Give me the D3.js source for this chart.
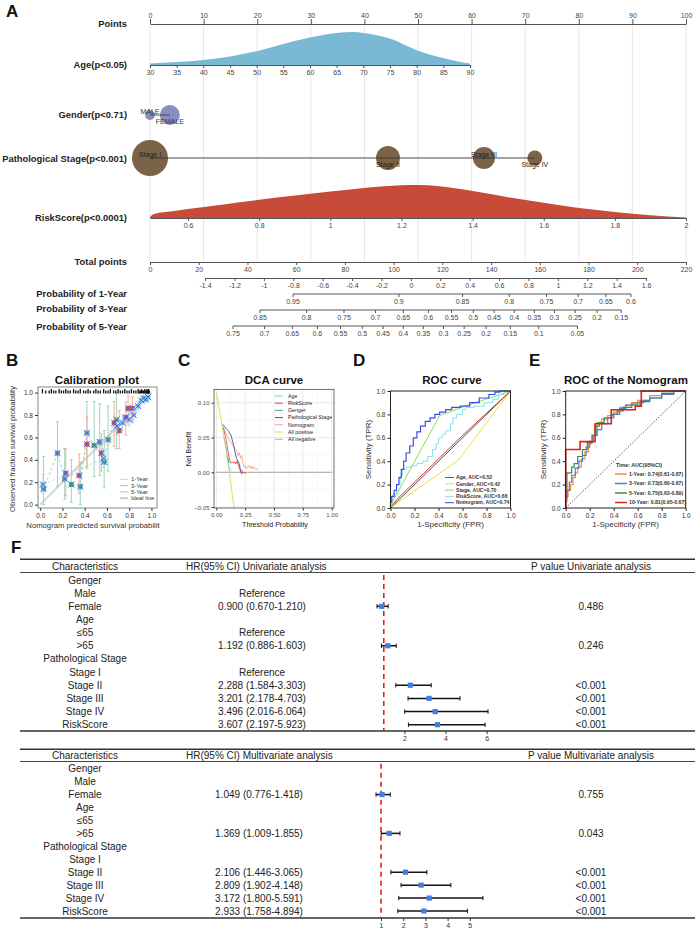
<!DOCTYPE html>
<html><head><meta charset="utf-8">
<script src="https://cdn.jsdelivr.net/npm/d3@7"></script>
<style>
body{margin:0;background:#fff;}
svg{display:block;}
</style></head><body>
<svg id="chart" width="695" height="931"></svg>
<script>
// ================= DATA =================
// --- Nomogram (A) ---
const pointsTicks = [0,10,20,30,40,50,60,70,80,90,100];
const ageTicks = [30,35,40,45,50,55,60,65,70,75,80,85,90];
const ageRange = [30,90];
const agePointRange = [0,59.7];
const ageDensity = [[30,0.045],[35,0.09],[40,0.15],[45,0.26],[50,0.42],[55,0.64],[60,0.83],[65,0.97],[68,1.0],[70,0.97],[75,0.8],[80,0.45],[85,0.21],[88,0.1],[90,0.045]];
const genderLevels = ["MALE","FEMALE"];
const genderPoints = [0,3.7];
const genderCounts = [22,89];
const stageLevels = ["Stage I","Stage II","Stage III","Stage IV"];
const stagePoints = [0,44.4,62.3,71.8];
const stageCounts = [290,128,108,50];
const riskTicks = [0.6,0.8,1,1.2,1.4,1.6,1.8,2];
const riskRange = [0.493,2];
const riskPointRange = [0,100];
const riskDensity = [[0.493,0.03],[0.5,0.1],[0.52,0.16],[0.55,0.2],[0.6,0.27],[0.7,0.41],[0.8,0.55],[0.9,0.68],[1.0,0.8],[1.1,0.92],[1.2,0.99],[1.25,1.0],[1.3,0.97],[1.4,0.82],[1.5,0.63],[1.6,0.46],[1.7,0.3],[1.8,0.18],[1.9,0.08],[2.0,0.015]];
const totalTicks = [0,20,40,60,80,100,120,140,160,180,200,220];
const lpTicks = [-1.4,-1.2,-1,-0.8,-0.6,-0.4,-0.2,0,0.2,0.4,0.6,0.8,1,1.2,1.4,1.6];
const lpRange = [-1.4,1.6];
const lpTotalRange = [22.6,203.6];
const prob1Ticks = [0.95,0.9,0.85,0.8,0.75,0.7,0.65,0.6];
const prob3Ticks = [0.85,0.8,0.75,0.7,0.65,0.6,0.55,0.5,0.45,0.4,0.35,0.3,0.25,0.2,0.15];
const prob5Ticks = [0.75,0.7,0.65,0.6,0.55,0.5,0.45,0.4,0.35,0.3,0.25,0.2,0.15,0.1,0.05];
const baselineLogCumHaz = [-2.169,-0.791,-0.036]; // 1-, 3-, 5-year

// --- Calibration (B): [predicted, observed, lower, upper] ---
const cal1Year = [[0.025,0.18,0.1,0.27],[0.57,0.41,0.33,0.5],[0.69,0.70,0.62,0.78],[0.74,0.73,0.66,0.8],[0.80,0.76,0.7,0.83],[0.84,0.80,0.75,0.86],[0.88,0.88,0.84,0.92],[0.91,0.93,0.9,0.96],[0.93,0.95,0.92,0.98],[0.95,0.94,0.91,0.97],[0.97,0.96,0.93,0.99]];
const cal3Year = [[0.23,0.28,0.08,0.5],[0.35,0.26,0.1,0.45],[0.42,0.54,0.34,0.79],[0.55,0.46,0.3,0.63],[0.665,0.73,0.52,0.92],[0.71,0.66,0.5,0.84],[0.77,0.78,0.62,0.92],[0.79,0.86,0.72,0.97],[0.83,0.86,0.73,0.96]];
const cal5Year = [[0.03,0.14,0.0,0.43],[0.155,0.46,0.16,0.74],[0.22,0.23,0.05,0.5],[0.28,0.18,0.02,0.4],[0.36,0.16,0.0,0.38],[0.42,0.64,0.32,0.92],[0.485,0.53,0.25,0.92],[0.535,0.56,0.26,0.9],[0.575,0.38,0.15,0.66],[0.61,0.58,0.3,0.88],[0.685,0.76,0.5,1.0]];
const calRug = [0.02,0.05,0.08,0.1,0.12,0.14,0.17,0.19,0.21,0.23,0.25,0.27,0.3,0.32,0.34,0.36,0.39,0.41,0.43,0.45,0.48,0.5,0.52,0.54,0.57,0.59,0.61,0.63,0.66,0.68,0.7,0.72,0.74,0.76,0.78,0.8,0.82,0.84,0.86,0.88,0.89,0.9,0.91,0.92,0.93,0.94,0.95,0.955,0.96,0.965,0.97,0.975,0.98];
const calTicks = [0,0.2,0.4,0.6,0.8,1.0];
const calLegend = ["1-Year","3-Year","5-Year","Ideal line"];

// --- DCA (C): [threshold, net benefit] ---
const dcaAge = [[0.065,0.05],[0.075,0.044],[0.085,0.035],[0.095,0.025],[0.1,0.018],[0.105,0.012],[0.11,0.008],[0.115,0.004],[0.12,0.003],[0.125,0.004],[0.13,0.0035]];
const dcaRisk = [[0.06,0.064],[0.07,0.058],[0.08,0.05],[0.09,0.042],[0.1,0.032],[0.11,0.022],[0.12,0.016],[0.13,0.013],[0.14,0.015],[0.15,0.013],[0.16,0.015],[0.17,0.012],[0.18,0.016],[0.19,0.011],[0.2,0.006],[0.21,0.002],[0.22,0.003],[0.23,-0.001],[0.24,0.0],[0.26,-0.002]];
const dcaGender = [[0.095,0.022],[0.1,0.02],[0.105,0.017],[0.11,0.013]];
const dcaStage = [[0.055,0.069],[0.07,0.066],[0.09,0.062],[0.11,0.058],[0.13,0.052],[0.145,0.042],[0.16,0.031],[0.175,0.02],[0.19,0.015],[0.2,0.012],[0.21,0.002],[0.222,-0.003]];
const dcaNomogram = [[0.06,0.066],[0.08,0.058],[0.1,0.05],[0.12,0.044],[0.14,0.04],[0.16,0.035],[0.18,0.03],[0.19,0.024],[0.2,0.028],[0.21,0.02],[0.22,0.024],[0.23,0.014],[0.24,0.008],[0.25,0.01],[0.26,0.005],[0.27,0.007],[0.28,0.01],[0.29,0.006],[0.3,0.009],[0.31,0.005],[0.32,0.008],[0.33,0.005],[0.34,0.006],[0.35,0.004],[0.36,0.005]];
const dcaAllPositive = [[0,0.115],[0.05,0.068],[0.1,0.016],[0.15,-0.046],[0.154,-0.0513]];
const dcaAllNegative = [[0,0],[1,0]];
const dcaNames = ["Age","RiskScore","Genger","Pathological Stage","Nomogram","All positive","All negative"];
const dcaXTicks = [0,0.25,0.5,0.75,1];
const dcaXMinor = [0.125,0.375,0.625,0.875];
const dcaYTicks = [-0.05,0,0.05,0.1];
const dcaYMinor = [-0.025,0.025,0.075];

// --- ROC (D): [FPR, TPR] ---
const rocAge = [[0,0],[0.05,0.07],[0.2,0.22],[0.4,0.42],[0.6,0.62],[0.8,0.81],[1,1]];
const rocGender = [[0,0],[0.566,0.41],[1,1]];
const rocStage = [[0,0],[0.02,0.06],[0.41,0.79],[0.62,0.87],[1,1]];
const rocRisk = [[0,0],[0.02,0.05],[0.05,0.12],[0.08,0.2],[0.1,0.28],[0.13,0.33],[0.17,0.35],[0.22,0.36],[0.27,0.38],[0.31,0.4],[0.35,0.44],[0.38,0.5],[0.4,0.55],[0.43,0.6],[0.46,0.63],[0.5,0.66],[0.52,0.72],[0.55,0.77],[0.6,0.8],[0.63,0.84],[0.7,0.86],[0.78,0.87],[0.85,0.9],[0.9,0.93],[0.95,0.97],[1,1]];
const rocNomogram = [[0,0],[0.01,0.05],[0.03,0.1],[0.05,0.15],[0.07,0.2],[0.09,0.26],[0.11,0.33],[0.13,0.4],[0.16,0.47],[0.19,0.53],[0.22,0.6],[0.25,0.65],[0.29,0.7],[0.33,0.74],[0.37,0.77],[0.41,0.8],[0.46,0.82],[0.51,0.84],[0.58,0.86],[0.66,0.87],[0.74,0.9],[0.82,0.94],[0.87,0.97],[0.91,0.99],[0.96,1],[1,1]];
const rocDLegend = ["Age, AUC=0.52","Gender, AUC=0.42","Stage, AUC=0.70","RiskScore, AUC=0.66","Nomogram, AUC=0.74"];
const rocTicks = [0,0.2,0.4,0.6,0.8,1.0];

// --- ROC of nomogram (E) ---
const roc1Year = [[0,0],[0.01,0.05],[0.02,0.1],[0.04,0.15],[0.06,0.2],[0.08,0.26],[0.1,0.3],[0.13,0.35],[0.16,0.42],[0.19,0.48],[0.22,0.55],[0.24,0.62],[0.26,0.7],[0.3,0.73],[0.35,0.76],[0.4,0.79],[0.45,0.82],[0.5,0.86],[0.55,0.88],[0.6,0.9],[0.7,0.92],[0.8,0.96],[0.9,0.98],[1,1]];
const roc3Year = [[0,0],[0.01,0.08],[0.03,0.15],[0.05,0.22],[0.08,0.28],[0.11,0.34],[0.14,0.4],[0.17,0.45],[0.2,0.52],[0.23,0.57],[0.26,0.62],[0.3,0.67],[0.35,0.72],[0.4,0.77],[0.45,0.8],[0.5,0.85],[0.55,0.88],[0.6,0.89],[0.65,0.9],[0.7,0.92],[0.8,0.94],[0.9,0.97],[1,1]];
const roc5Year = [[0,0],[0.01,0.1],[0.02,0.3],[0.05,0.3],[0.07,0.35],[0.1,0.38],[0.14,0.44],[0.18,0.5],[0.22,0.56],[0.26,0.62],[0.28,0.7],[0.32,0.73],[0.38,0.77],[0.43,0.8],[0.48,0.83],[0.55,0.86],[0.62,0.88],[0.7,0.91],[0.8,0.94],[0.9,0.98],[1,1]];
const roc10Year = [[0,0],[0,0.5],[0.12,0.5],[0.12,0.567],[0.245,0.567],[0.245,0.72],[0.38,0.72],[0.38,0.84],[0.58,0.84],[0.58,0.87],[0.63,0.87],[0.63,1],[1,1]];
const rocELegend = ["1-Year: 0.74(0.61-0.87)","3-Year: 0.73(0.60-0.87)","5-Year: 0.75(0.63-0.89)","10-Year: 0.81(0.95-0.67)"];

// --- Forest (F) ---
const forestRows = ["Genger","Male","Female","Age","≤65",">65","Pathological Stage","Stage I","Stage II","Stage III","Stage IV","RiskScore"];
const uniRefRows = ["Male","≤65","Stage I"];
const uniHR   = [null,null,0.900,null,null,1.192,null,null,2.288,3.201,3.496,3.607];
const uniLow  = [null,null,0.670,null,null,0.886,null,null,1.584,2.178,2.016,2.197];
const uniHigh = [null,null,1.210,null,null,1.603,null,null,3.303,4.703,6.064,5.923];
const uniP    = ["","","0.486","","","0.246","","","<0.001","<0.001","<0.001","<0.001"];
const uniAxisTicks = [2,4,6];
const multiHR   = [null,null,1.049,null,null,1.369,null,null,2.106,2.809,3.172,2.933];
const multiLow  = [null,null,0.776,null,null,1.009,null,null,1.446,1.902,1.800,1.758];
const multiHigh = [null,null,1.418,null,null,1.855,null,null,3.065,4.148,5.591,4.894];
const multiP    = ["","","0.755","","","0.043","","","<0.001","<0.001","<0.001","<0.001"];
const multiAxisTicks = [1,2,3,4,5];

// ================= DRAW =================
const FONT = "'Liberation Sans', Arial, Helvetica, sans-serif";
const svg = d3.select("#chart").attr("font-family", FONT);

function txt(g, x, y, s, o = {}) {
  const t = g.append("text").attr("x", x).attr("y", y).text(s)
    .attr("font-size", o.size || 10).attr("fill", o.fill || "#222")
    .attr("text-anchor", o.anchor || "start")
    .attr("font-weight", o.weight || "normal");
  if (o.dy) t.attr("dy", o.dy);
  if (o.rotate) t.attr("transform", `rotate(-90,${x},${y})`);
  return t;
}
function styleAxis(g, fs, col, lineCol) {
  g.attr("font-family", FONT).attr("font-size", fs);
  g.selectAll("text").attr("fill", col || "#444");
  g.selectAll("line").attr("stroke", lineCol || "#555");
  g.select(".domain").attr("stroke", lineCol || "#555");
}
const fmtNum = d => String(+d.toFixed(2));

// Panel letters
[["A",6,17],["B",6,366],["C",178,366],["D",353,366],["E",529,366],["F",11,553]].forEach(([s,x,y]) =>
  txt(svg, x, y, s, {size:17, weight:"bold", fill:"#111"}));

// ----- Panel A -----
const gA = svg.append("g");
const ptsX = d3.scaleLinear().domain([0,100]).range([150,686]);
const totX = d3.scaleLinear().domain([0,220]).range([150,686]);
const ageX = d3.scaleLinear().domain(ageRange).range(agePointRange.map(ptsX));
const riskX = d3.scaleLinear().domain(riskRange).range(riskPointRange.map(ptsX));
const densH = d3.scaleLinear().domain([0,1]).range([0,33]);
const lpX = d3.scaleLinear().domain(lpRange).range(lpTotalRange.map(totX));
const sizeR = d3.scaleSqrt().domain([0,290]).range([0,18]);

gA.append("g").selectAll("line").data(pointsTicks).join("line")
  .attr("x1", d => ptsX(d)).attr("x2", d => ptsX(d)).attr("y1", 24).attr("y2", 262)
  .attr("stroke", "#e6e6e6").attr("stroke-width", 1);

const rowLab = [["Points",24],["Age(p<0.05)",65],["Gender(p<0.71)",115],["Pathological Stage(p<0.001)",159],["RiskScore(p<0.0001)",218],["Total points",262],["Probability of 1-Year",294],["Probability of 3-Year",309],["Probability of 5-Year",327]];
rowLab.forEach(([s,y]) => txt(gA, 127, y, s, {size:9.4, weight:"bold", anchor:"end", dy:"0.35em", fill:"#222"}));

// Points axis
const axP = gA.append("g").attr("transform","translate(0,24)")
  .call(d3.axisTop(ptsX).tickValues(pointsTicks).tickSize(5).tickPadding(1.5).tickSizeOuter(0));
styleAxis(axP, 7);

// Age density
gA.append("path").datum(ageDensity)
  .attr("d", d3.area().x(d => ageX(d[0])).y0(65).y1(d => 65 - densH(d[1])).curve(d3.curveMonotoneX))
  .attr("fill", "#79b9d3");
const axAge = gA.append("g").attr("transform","translate(0,65)")
  .call(d3.axisBottom(ageX).tickValues(ageTicks).tickSize(3).tickPadding(2).tickSizeOuter(0));
styleAxis(axAge, 7);

// Gender
const gy = 115;
gA.selectAll(".gc").data(genderLevels).join("circle")
  .attr("cx", (d,i) => ptsX(genderPoints[i])).attr("cy", gy).attr("r", (d,i) => sizeR(genderCounts[i]))
  .attr("fill", "#8a8ebd");
gA.append("line").attr("x1", ptsX(genderPoints[0])).attr("x2", ptsX(genderPoints[genderPoints.length-1]))
  .attr("y1", gy).attr("y2", gy).attr("stroke", "#444").attr("stroke-width", 0.9);
genderLevels.forEach((s,i) => txt(gA, ptsX(genderPoints[i]), i%2===0 ? gy-1.5 : gy+9, s, {size:7, anchor:"middle", fill:"#333"}));

// Stage
const sy = 158;
gA.selectAll(".sc").data(stageLevels).join("circle")
  .attr("cx", (d,i) => ptsX(stagePoints[i])).attr("cy", sy).attr("r", (d,i) => sizeR(stageCounts[i]))
  .attr("fill", "#7a6347");
gA.append("line").attr("x1", ptsX(stagePoints[0])).attr("x2", ptsX(stagePoints[stagePoints.length-1]))
  .attr("y1", sy).attr("y2", sy).attr("stroke", "#333").attr("stroke-width", 0.9);
stageLevels.forEach((s,i) => txt(gA, ptsX(stagePoints[i]), i%2===0 ? sy-1.5 : sy+9, s, {size:7, anchor:"middle", fill:"#222"}));

// RiskScore density
gA.append("path").datum(riskDensity)
  .attr("d", d3.area().x(d => riskX(d[0])).y0(218).y1(d => 218 - densH(d[1])).curve(d3.curveMonotoneX))
  .attr("fill", "#c84a38");
const axRisk = gA.append("g").attr("transform","translate(0,218)")
  .call(d3.axisBottom(riskX).tickValues(riskTicks).tickFormat(fmtNum).tickSize(3).tickPadding(2).tickSizeOuter(0));
styleAxis(axRisk, 7);

// Total points
const axTot = gA.append("g").attr("transform","translate(0,262)")
  .call(d3.axisBottom(totX).tickValues(totalTicks).tickSize(3).tickPadding(2).tickSizeOuter(0));
styleAxis(axTot, 7);

// Linear predictor
const axLp = gA.append("g").attr("transform","translate(0,278)")
  .call(d3.axisBottom(lpX).tickValues(lpTicks).tickFormat(fmtNum).tickSize(3).tickPadding(2).tickSizeOuter(0));
styleAxis(axLp, 7);

// Probability axes
function probAxis(ticks, c, y) {
  const g = gA.append("g");
  const px = p => lpX(Math.log(-Math.log(p)) - c);
  g.append("line").attr("x1", px(ticks[0])).attr("x2", px(ticks[ticks.length-1]))
    .attr("y1", y).attr("y2", y).attr("stroke", "#555");
  g.selectAll("line.t").data(ticks).join("line").attr("class","t")
    .attr("x1", px).attr("x2", px).attr("y1", y).attr("y2", y+3).attr("stroke", "#555");
  g.selectAll("text").data(ticks).join("text")
    .attr("x", px).attr("y", y+5).attr("dy","0.71em").attr("text-anchor","middle")
    .attr("font-size", 7).attr("fill", "#444").text(fmtNum);
}
probAxis(prob1Ticks, baselineLogCumHaz[0], 294);
probAxis(prob3Ticks, baselineLogCumHaz[1], 310);
probAxis(prob5Ticks, baselineLogCumHaz[2], 326);

// ----- Panel B: calibration -----
const gB = svg.append("g");
const bx = d3.scaleLinear().domain([-0.02,1.05]).range([38,157]);
const by = d3.scaleLinear().domain([-0.03,1.05]).range([508,387]);
txt(gB, 97, 384, "Calibration plot", {size:11.5, weight:"bold", anchor:"middle", fill:"#111"});
gB.append("rect").attr("x",38).attr("y",387).attr("width",119).attr("height",121).attr("fill","none").attr("stroke","#555").attr("stroke-width",0.7);
gB.append("line").attr("x1",bx(0)).attr("y1",by(0)).attr("x2",bx(1)).attr("y2",by(1)).attr("stroke","#d4d4d4").attr("stroke-width",2);
const calSeries = [
  {d: cal5Year, bar:"#8fd1b7", pt:"#4fa985"},
  {d: cal3Year, bar:"#f2a894", pt:"#d9553a"},
  {d: cal1Year, bar:"#a9dbea", pt:"#8ccfe4"}
];
calSeries.forEach(s => {
  const g = gB.append("g");
  g.append("path").datum(s.d).attr("d", d3.line().x(d => bx(d[0])).y(d => by(d[1])))
    .attr("fill","none").attr("stroke", s.bar).attr("stroke-width",0.8).attr("stroke-dasharray","3,2");
  g.selectAll("line.e").data(s.d).join("line").attr("class","e")
    .attr("x1", d => bx(d[0])).attr("x2", d => bx(d[0])).attr("y1", d => by(d[2])).attr("y2", d => by(d[3]))
    .attr("stroke", s.bar).attr("stroke-width", 0.9);
  [2,3].forEach(k => g.selectAll("line.c"+k).data(s.d).join("line").attr("class","c"+k)
    .attr("x1", d => bx(d[0])-1.5).attr("x2", d => bx(d[0])+1.5).attr("y1", d => by(d[k])).attr("y2", d => by(d[k]))
    .attr("stroke", s.bar).attr("stroke-width", 0.9));
  g.selectAll("circle").data(s.d).join("circle")
    .attr("cx", d => bx(d[0])).attr("cy", d => by(d[1])).attr("r", 2.6).attr("fill", s.pt);
});
calSeries.forEach(s => {
  gB.append("g").selectAll("path").data(s.d).join("path")
    .attr("d", d => { const x = bx(d[0]), y = by(d[1]), r = 3; return `M${x-r},${y-r}L${x+r},${y+r}M${x-r},${y+r}L${x+r},${y-r}`; })
    .attr("stroke", "#4763ea").attr("stroke-width", 1);
});
gB.append("g").selectAll("line").data(calRug).join("line")
  .attr("x1", d => bx(d)).attr("x2", d => bx(d)).attr("y1", (d,i) => by(1) - (i%3===0 ? 3.5 : 2.2)).attr("y2", by(1)+0.8)
  .attr("stroke", "#111").attr("stroke-width", 1.3);
const axBL = gB.append("g").attr("transform","translate(38,0)")
  .call(d3.axisLeft(by).tickValues(calTicks).tickFormat(d3.format(".1f")).tickSize(3).tickPadding(2).tickSizeOuter(0));
styleAxis(axBL, 6.5, "#333", "#333"); axBL.select(".domain").remove();
const axBB = gB.append("g").attr("transform","translate(0,508)")
  .call(d3.axisBottom(bx).tickValues(calTicks).tickFormat(d3.format(".1f")).tickSize(3).tickPadding(2).tickSizeOuter(0));
styleAxis(axBB, 6.5, "#333", "#333"); axBB.select(".domain").remove();
txt(gB, 15, 449, "Observed fraction survival probability", {size:7.7, anchor:"middle", rotate:true, fill:"#333"});
txt(gB, 93, 528, "Nomogram predicted survival probabilit", {size:7.7, anchor:"middle", fill:"#333"});
const calLegCols = ["#a9dbea","#f2a894","#8fd1b7","#cfcfcf"];
calLegend.forEach((s,i) => {
  const y = 479.3 + i*6.3;
  gB.append("line").attr("x1",120).attr("x2",128).attr("y1",y).attr("y2",y).attr("stroke",calLegCols[i]).attr("stroke-width", i===3?2.2:1);
  txt(gB, 131, y, s, {size:5.8, dy:"0.35em", fill:"#333"});
});

// ----- Panel C: DCA -----
const gC = svg.append("g");
const cx = d3.scaleLinear().domain([-0.02,1.02]).range([214,334]);
const cy = d3.scaleLinear().domain([-0.0513,0.1193]).range([508,389.3]);
txt(gC, 274, 384, "DCA curve", {size:11.5, weight:"bold", anchor:"middle", fill:"#111"});
gC.append("g").selectAll("line").data(dcaXMinor).join("line")
  .attr("x1",d=>cx(d)).attr("x2",d=>cx(d)).attr("y1",389.3).attr("y2",508).attr("stroke","#f2f2f2").attr("stroke-width",0.6);
gC.append("g").selectAll("line").data(dcaYMinor).join("line")
  .attr("y1",d=>cy(d)).attr("y2",d=>cy(d)).attr("x1",214).attr("x2",334).attr("stroke","#f2f2f2").attr("stroke-width",0.6);
gC.append("g").selectAll("line").data(dcaXTicks).join("line")
  .attr("x1",d=>cx(d)).attr("x2",d=>cx(d)).attr("y1",389.3).attr("y2",508).attr("stroke","#e3e3e3").attr("stroke-width",0.8);
gC.append("g").selectAll("line").data(dcaYTicks).join("line")
  .attr("y1",d=>cy(d)).attr("y2",d=>cy(d)).attr("x1",214).attr("x2",334).attr("stroke","#e3e3e3").attr("stroke-width",0.8);
svg.append("clipPath").attr("id","clipC").append("rect").attr("x",214).attr("y",389.3).attr("width",120).attr("height",118.7);
const dcaCols = ["#6ec3e6","#e03b2f","#2f9e6e","#2c3f9e","#f59a7a","#cfe04a","#a3a3a3"];
const dcaData = [dcaAge,dcaRisk,dcaGender,dcaStage,dcaNomogram,dcaAllPositive,dcaAllNegative];
const gCl = gC.append("g").attr("clip-path","url(#clipC)");
[6,5,0,2,4,1,3].forEach(i => {
  gCl.append("path").datum(dcaData[i]).attr("d", d3.line().x(d=>cx(d[0])).y(d=>cy(d[1])))
    .attr("fill","none").attr("stroke",dcaCols[i]).attr("stroke-width", i>=5?0.9:0.8);
});
gC.append("rect").attr("x",214).attr("y",389.3).attr("width",120).attr("height",118.7).attr("fill","none").attr("stroke","#333").attr("stroke-width",0.7);
const axCL = gC.append("g").attr("transform","translate(214,0)")
  .call(d3.axisLeft(cy).tickValues(dcaYTicks).tickFormat(d3.format(".2f")).tickSize(2.5).tickPadding(2).tickSizeOuter(0));
styleAxis(axCL, 6, "#4d4d4d", "#333"); axCL.select(".domain").remove();
const axCB = gC.append("g").attr("transform","translate(0,508)")
  .call(d3.axisBottom(cx).tickValues(dcaXTicks).tickFormat(d3.format(".2f")).tickSize(2.5).tickPadding(2).tickSizeOuter(0));
styleAxis(axCB, 6, "#4d4d4d", "#333"); axCB.select(".domain").remove();
txt(gC, 191, 449, "Net Benefit", {size:7, anchor:"middle", rotate:true, fill:"#222"});
txt(gC, 275, 527, "Threshold Probability", {size:7, anchor:"middle", fill:"#222"});
dcaNames.forEach((s,i) => {
  const y = 396 + i*7.2;
  gC.append("line").attr("x1",275).attr("x2",283).attr("y1",y).attr("y2",y).attr("stroke",dcaCols[i]).attr("stroke-width",0.9);
  txt(gC, 288, y, s, {size:5.3, dy:"0.35em", fill:"#222"});
});

// ----- Panel D: ROC -----
function rocFrame(g, x0, title, titleX) {
  const xs = d3.scaleLinear().domain([0,1]).range([x0, x0+120]);
  const ys = d3.scaleLinear().domain([0,1]).range([508,391]);
  txt(g, titleX, 384, title, {size:11.5, weight:"bold", anchor:"middle", fill:"#111"});
  const axL = g.append("g").attr("transform",`translate(${x0},0)`)
    .call(d3.axisLeft(ys).tickValues(rocTicks).tickFormat(d3.format(".1f")).tickSize(3).tickPadding(2).tickSizeOuter(0));
  styleAxis(axL, 6.5, "#333", "#222"); axL.select(".domain").remove();
  const axB = g.append("g").attr("transform","translate(0,508)")
    .call(d3.axisBottom(xs).tickValues(rocTicks).tickFormat(d3.format(".1f")).tickSize(3).tickPadding(2).tickSizeOuter(0));
  styleAxis(axB, 6.5, "#333", "#222"); axB.select(".domain").remove();
  txt(g, x0-20, 449.5, "Sensitivity (TPR)", {size:8, anchor:"middle", rotate:true, fill:"#333"});
  txt(g, x0+60, 527, "1-Specificity (FPR)", {size:8, anchor:"middle", fill:"#333"});
  return {xs, ys};
}
const gD = svg.append("g");
const D = rocFrame(gD, 390.5, "ROC curve", 452);
const lineD = d3.line().x(d=>D.xs(d[0])).y(d=>D.ys(d[1]));
gD.append("line").attr("x1",D.xs(0)).attr("y1",D.ys(0)).attr("x2",D.xs(1)).attr("y2",D.ys(1)).attr("stroke","#222").attr("stroke-width",0.8);
const rocDCols = ["#d8352c","#e9e23c","#86e04c","#86e3ea","#3b4cef"];
const rocDData = [rocAge,rocGender,rocStage,rocRisk,rocNomogram];
[1,0,2,3,4].forEach(i => {
  const ln = (i>=3) ? d3.line().x(d=>D.xs(d[0])).y(d=>D.ys(d[1])).curve(d3.curveStepBefore) : lineD;
  gD.append("path").datum(rocDData[i]).attr("d", ln).attr("fill","none").attr("stroke",rocDCols[i]).attr("stroke-width", i===4?1.2:1);
});
gD.append("rect").attr("x",390.5).attr("y",391).attr("width",120).attr("height",117).attr("fill","none").attr("stroke","#222").attr("stroke-width",1);
rocDLegend.forEach((s,i) => {
  const y = 477.5 + i*6.3;
  gD.append("line").attr("x1",445).attr("x2",454).attr("y1",y).attr("y2",y).attr("stroke",rocDCols[i]).attr("stroke-width",1);
  txt(gD, 456, y, s, {size:5.1, weight:"bold", dy:"0.35em", fill:"#333"});
});

// ----- Panel E -----
const gE = svg.append("g");
const E = rocFrame(gE, 565.7, "ROC of the Nomogram", 626);
gE.append("line").attr("x1",E.xs(0)).attr("y1",E.ys(0)).attr("x2",E.xs(1)).attr("y2",E.ys(1)).attr("stroke","#333").attr("stroke-width",0.8).attr("stroke-dasharray","1.5,1.5");
const rocECols = ["#f0922e","#4a7fd6","#3a8f3e","#e11d1d"];
const rocEData = [roc1Year,roc3Year,roc5Year,roc10Year];
[0,2,1,3].forEach(i => {
  const ln = d3.line().x(d=>E.xs(d[0])).y(d=>E.ys(d[1])).curve(i<3 ? d3.curveStepBefore : d3.curveLinear);
  gE.append("path").datum(rocEData[i]).attr("d", ln).attr("fill","none").attr("stroke",rocECols[i]).attr("stroke-width", i===3?1.6:1.2);
});
gE.append("rect").attr("x",565.7).attr("y",391).attr("width",120).attr("height",117).attr("fill","none").attr("stroke","#222").attr("stroke-width",1);
txt(gE, 639, 465, "Time: AUC(95%CI)", {size:5.3, weight:"bold", anchor:"middle", dy:"0.35em", fill:"#333"});
rocELegend.forEach((s,i) => {
  const y = 474 + i*9.5;
  gE.append("line").attr("x1",615).attr("x2",627).attr("y1",y).attr("y2",y).attr("stroke",rocECols[i]).attr("stroke-width",1.5);
  txt(gE, 629, y, s, {size:5.2, weight:"bold", dy:"0.35em", fill:"#333"});
});

// ----- Panel F: forest tables -----
function forest(cfg) {
  const g = svg.append("g");
  const rowY = d3.scalePoint().domain(d3.range(forestRows.length)).range(cfg.rows);
  const fx = d3.scaleLinear().domain(cfg.dom).range(cfg.rng);
  g.append("line").attr("x1",20).attr("x2",695).attr("y1",cfg.top).attr("y2",cfg.top).attr("stroke","#333").attr("stroke-width",1.6);
  g.append("line").attr("x1",20).attr("x2",695).attr("y1",cfg.head+6).attr("y2",cfg.head+6).attr("stroke","#444").attr("stroke-width",1);
  g.append("line").attr("x1",20).attr("x2",695).attr("y1",cfg.bottom).attr("y2",cfg.bottom).attr("stroke","#333").attr("stroke-width",1.6);
  txt(g, 85, cfg.head, "Characteristics", {anchor:"middle", dy:"0.35em"});
  txt(g, 186, cfg.head, cfg.hrHead, {dy:"0.35em"});
  txt(g, 591, cfg.head, cfg.pHead, {anchor:"middle", dy:"0.35em"});
  forestRows.forEach((s,i) => {
    const y = rowY(i);
    txt(g, 85, y, s, {anchor:"middle", dy:"0.35em"});
    let hr = "";
    if (cfg.hr[i] != null) hr = `${cfg.hr[i].toFixed(3)} (${cfg.lo[i].toFixed(3)}-${cfg.hi[i].toFixed(3)})`;
    else if (cfg.refRows.includes(s)) hr = "Reference";
    if (hr) txt(g, cfg.hrX, y, hr, {anchor:"middle", dy:"0.35em"});
    if (cfg.p[i]) txt(g, 591, y, cfg.p[i], {anchor:"middle", dy:"0.35em"});
  });
  g.append("line").attr("x1",fx(1)).attr("x2",fx(1)).attr("y1",rowY(0)-5).attr("y2",cfg.bottom)
    .attr("stroke","#e3201b").attr("stroke-width",1.6).attr("stroke-dasharray","5,4");
  const idx = d3.range(forestRows.length).filter(i => cfg.hr[i] != null);
  idx.forEach(i => {
    const y = rowY(i);
    g.append("line").attr("x1",fx(cfg.lo[i])).attr("x2",fx(cfg.hi[i])).attr("y1",y).attr("y2",y).attr("stroke","#111").attr("stroke-width",1.5);
    [cfg.lo[i],cfg.hi[i]].forEach(v => g.append("line").attr("x1",fx(v)).attr("x2",fx(v)).attr("y1",y-2.2).attr("y2",y+2.2).attr("stroke","#111").attr("stroke-width",1));
    g.append("rect").attr("x",fx(cfg.hr[i])-2.6).attr("y",y-2.6).attr("width",5.2).attr("height",5.2).attr("fill","#3f7fe3");
  });
  const ax = g.append("g").attr("transform",`translate(0,${cfg.bottom})`)
    .call(d3.axisBottom(fx).tickValues(cfg.ticks).tickFormat(d3.format("d")).tickSize(3).tickPadding(2).tickSizeOuter(0));
  styleAxis(ax, 7, "#333", "#333"); ax.select(".domain").remove();
}
forest({top:559.3, head:566.5, bottom:731, rows:[580,724.7], dom:[1,6], rng:[383.8,486.7],
  hrHead:"HR(95% CI) Univariate analysis", pHead:"P value Univariate analysis",
  hr:uniHR, lo:uniLow, hi:uniHigh, p:uniP, refRows:uniRefRows, hrX:262, ticks:uniAxisTicks});
forest({top:749.3, head:755.5, bottom:918, rows:[768.7,911], dom:[1,5], rng:[381,469.8],
  hrHead:"HR(95% CI) Multivariate analysis", pHead:"P value Multivariate analysis",
  hr:multiHR, lo:multiLow, hi:multiHigh, p:multiP, refRows:[], hrX:259, ticks:multiAxisTicks});
</script>
</body></html>
